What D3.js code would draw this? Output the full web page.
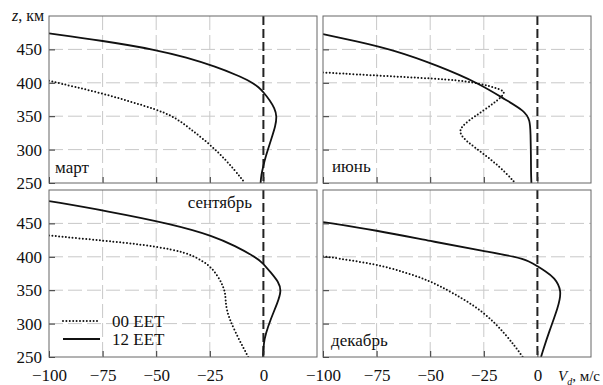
<!DOCTYPE html>
<html>
<head>
<meta charset="utf-8">
<script src="https://cdn.jsdelivr.net/npm/d3@7"></script>
</head>
<body style="margin:0; background:#fff">
<div id="chart"></div>
<script>
var months = ["март", "июнь", "сентябрь", "декабрь"];
var seriesNames = ["00 EET", "12 EET"];
var xTicks = [-100, -75, -50, -25, 0];
var yTicks = [250, 300, 350, 400, 450];

// pairs of [V_d (м/с), z (км)]
var marchNight = [[-100, 403], [-88, 394], [-75, 384], [-62, 372], [-50, 360], [-42, 350], [-34, 331],
    [-25, 308], [-17, 283], [-10, 256], [-8.7, 250]];
var marchDay = [[-100, 474], [-75, 463], [-50, 449.5], [-36, 438], [-22, 424], [-12, 411], [-6, 402],
    [-2, 393], [0, 386], [3, 374], [5.2, 362], [6.3, 350], [5.6, 335], [4, 319], [2.5, 304], [1, 289],
    [0, 276], [-1, 262], [-1.3, 250]];

var juneNight = [[-100, 415.5], [-70, 410], [-40, 405], [-27, 399.5], [-17, 390], [-14.5, 385], [-20, 370],
    [-30, 348], [-38, 329], [-33, 312], [-25.4, 294.5], [-17.7, 274.6], [-11.5, 254.5], [-10.5, 250]];
var juneDay = [[-100, 473], [-84, 462], [-67, 449], [-47, 426.5], [-27, 399], [-14.6, 374], [-6, 358],
    [-3.4, 344], [-3.2, 324], [-3, 290], [-3, 267], [-2.8, 250]];

var septNight = [[-100, 432], [-73, 423.6], [-57.5, 418.7], [-42, 411], [-32.6, 402], [-25, 387],
    [-21.2, 371], [-18.8, 356], [-17.6, 344], [-17.6, 322], [-13.9, 291.5], [-6.9, 249]];
var septDay = [[-100, 483.5], [-73, 468.6], [-42, 448.6], [-23.2, 431], [-13, 416], [-4.5, 401],
    [-0.6, 392], [3.3, 377], [7.2, 362], [8.4, 349], [6.6, 331], [3.3, 306], [1, 284], [0.2, 272], [-0.2, 250]];

var decNight = [[-100, 401], [-75, 389], [-62, 377], [-50, 364], [-39.4, 346], [-25.4, 319],
    [-14.6, 284], [-6.8, 250]];
var decDay = [[-100, 452], [-75, 439.6], [-50, 423.6], [-24, 408], [-10, 400], [-3.5, 393], [0, 386],
    [3.5, 379], [8, 369], [11.5, 349], [9.6, 324], [5.6, 289], [2.5, 259], [1.7, 250]];

var width = 603, height = 385;
var panelW = 268, panelH = 167;

var panels = [
    { month: months[0], night: marchNight, day: marchDay, left: 49, top: 16, lx: 55, ly: 173, anchor: "start", showX: false, showY: true },
    { month: months[1], night: juneNight, day: juneDay, left: 323, top: 16, lx: 332, ly: 172, anchor: "start", showX: false, showY: false },
    { month: months[2], night: septNight, day: septDay, left: 49, top: 190, lx: 252, ly: 208, anchor: "end", showX: true, showY: true },
    { month: months[3], night: decNight, day: decDay, left: 323, top: 190, lx: 331, ly: 346, anchor: "start", showX: true, showY: false }
];

var serif = "'Liberation Serif'";

var svg = d3.select("#chart")
    .append("svg")
    .attr("width", width)
    .attr("height", height)
    .style("font-family", serif);

var fmt = d3.format("d");

panels.forEach(function(p, i) {
    var x = d3.scaleLinear().domain([-100, 25]).range([0, panelW]);
    var y = d3.scaleLinear().domain([250, 500]).range([panelH, 0]);

    var g = svg.append("g")
        .attr("transform", "translate(" + p.left + "," + p.top + ")");

    g.append("clipPath")
        .attr("id", "clip" + i)
        .append("rect")
        .attr("width", panelW)
        .attr("height", panelH);

    // dashed grid
    g.selectAll(".vgrid")
        .data(xTicks.filter(function(v) { return v !== -100 && v !== 0; }))
        .enter().append("line")
        .attr("x1", function(d) { return x(d); })
        .attr("x2", function(d) { return x(d); })
        .attr("y1", 0)
        .attr("y2", panelH)
        .attr("stroke", "#c8c8c8")
        .attr("stroke-dasharray", "14,5");

    g.selectAll(".hgrid")
        .data(yTicks.filter(function(v) { return v !== 250; }))
        .enter().append("line")
        .attr("x1", 0)
        .attr("x2", panelW)
        .attr("y1", function(d) { return y(d); })
        .attr("y2", function(d) { return y(d); })
        .attr("stroke", "#c8c8c8")
        .attr("stroke-dasharray", "14,5");

    // zero line
    g.append("line")
        .attr("x1", x(0))
        .attr("x2", x(0))
        .attr("y1", 0)
        .attr("y2", panelH)
        .attr("stroke", "#222")
        .attr("stroke-width", 2)
        .attr("stroke-dasharray", "9,4");

    var line = d3.line()
        .x(function(d) { return x(d[0]); })
        .y(function(d) { return y(d[1]); })
        .curve(d3.curveBasis);

    var curves = g.append("g").attr("clip-path", "url(#clip" + i + ")");

    curves.append("path")
        .datum(p.night)
        .attr("d", line)
        .attr("fill", "none")
        .attr("stroke", "#111")
        .attr("stroke-width", 2)
        .attr("stroke-linecap", "round")
        .attr("stroke-dasharray", "0,3.4");

    curves.append("path")
        .datum(p.day)
        .attr("d", line)
        .attr("fill", "none")
        .attr("stroke", "#111")
        .attr("stroke-width", 1.8);

    // axes with inner ticks
    var xAxis = g.append("g")
        .attr("transform", "translate(0," + panelH + ")")
        .call(d3.axisBottom(x)
            .tickValues(xTicks)
            .tickSizeInner(-6)
            .tickSizeOuter(0)
            .tickPadding(12)
            .tickFormat(p.showX ? fmt : function() { return ""; }));

    var yAxis = g.append("g")
        .call(d3.axisLeft(y)
            .tickValues(yTicks)
            .tickSizeInner(-6)
            .tickSizeOuter(0)
            .tickPadding(7)
            .tickFormat(p.showY ? fmt : function() { return ""; }));

    [xAxis, yAxis].forEach(function(a) {
        a.attr("font-family", null).attr("font-size", 17);
        a.select(".domain").remove();
        a.selectAll(".tick line").attr("stroke", "#333");
        a.selectAll(".tick text").attr("fill", "#111").style("font-family", serif);
    });

    g.append("rect")
        .attr("width", panelW)
        .attr("height", panelH)
        .attr("fill", "none")
        .attr("stroke", "#666");

    g.append("text")
        .attr("x", p.lx - p.left)
        .attr("y", p.ly - p.top)
        .attr("text-anchor", p.anchor)
        .attr("font-size", 17)
        .attr("fill", "#111")
        .style("font-family", serif)
        .text(p.month);
});

// legend
var legend = svg.append("g");
var legendY = [321, 339];
legend.selectAll("line")
    .data(seriesNames)
    .enter().append("line")
    .attr("x1", 63)
    .attr("x2", 100)
    .attr("y1", function(d, i) { return legendY[i]; })
    .attr("y2", function(d, i) { return legendY[i]; })
    .attr("stroke", "#111")
    .attr("stroke-width", function(d, i) { return i === 0 ? 2 : 1.8; })
    .attr("stroke-linecap", function(d, i) { return i === 0 ? "round" : "butt"; })
    .attr("stroke-dasharray", function(d, i) { return i === 0 ? "0,3.4" : null; });

legend.selectAll("text")
    .data(seriesNames)
    .enter().append("text")
    .attr("x", 112)
    .attr("y", function(d, i) { return legendY[i] + 6; })
    .attr("font-size", 17)
    .attr("fill", "#111")
    .style("font-family", serif)
    .text(function(d) { return d; });

// axis titles
var zTitle = svg.append("text")
    .attr("x", 12)
    .attr("y", 21)
    .attr("font-size", 16)
    .attr("fill", "#111")
    .style("font-family", serif);
zTitle.append("tspan").attr("font-style", "italic").text("z");
zTitle.append("tspan").text(", км");

var vTitle = svg.append("text")
    .attr("x", 600)
    .attr("y", 381)
    .attr("text-anchor", "end")
    .attr("font-size", 15)
    .attr("fill", "#111")
    .style("font-family", serif);
vTitle.append("tspan").attr("font-style", "italic").text("V");
vTitle.append("tspan").attr("font-style", "italic").attr("font-size", 10).attr("dy", 4).text("d");
vTitle.append("tspan").attr("dy", -4).text(", м/с");
</script>
</body>
</html>
